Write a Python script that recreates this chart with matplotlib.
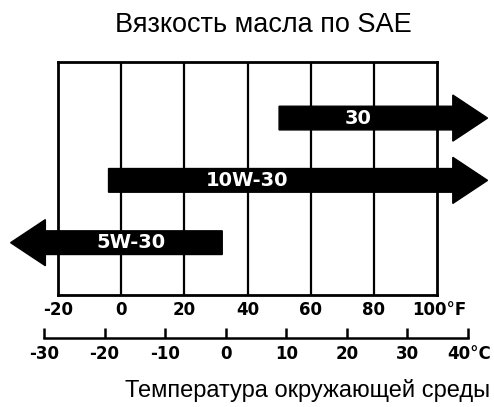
import matplotlib.pyplot as plt
from matplotlib.patches import FancyArrow

# SAE grades and their temperature ranges in Celsius (None = open-ended)
grades = ['5W-30', '10W-30', '30']
low_c = [None, -20, 10]
high_c = [0, None, None]

f_ticks = [-20, 0, 20, 40, 60, 80, 100]
f_labels = ['-20', '0', '20', '40', '60', '80', '100°F']
c_ticks = [-30, -20, -10, 0, 10, 20, 30, 40]
c_labels = ['-30', '-20', '-10', '0', '10', '20', '30', '40°C']


def c_to_f(c):
    return c * 9 / 5 + 32


plt.rcParams['font.family'] = ['Liberation Sans', 'DejaVu Sans']
bold = dict(family='DejaVu Sans', fontweight='bold')

W, H = 494, 407
fig = plt.figure(figsize=(W / 100, H / 100), dpi=100)

# main Fahrenheit box
ax = fig.add_axes([58 / W, (H - 295) / H, (437 - 58) / W, (295 - 62) / H])
ax.set_xlim(-20, 100)
ax.set_ylim(-0.84, 2.90)
for s in ax.spines.values():
    s.set_linewidth(2)
ax.vlines(f_ticks[1:-1], -0.84, 2.90, color='black', lw=1.6)
ax.set_xticks([])
ax.set_yticks([])

for v, lab in zip(f_ticks, f_labels):
    if lab.endswith('F'):
        ax.annotate(lab, (v, 0), xycoords=('data', 'axes fraction'),
                    xytext=(-18, -4), textcoords='offset points',
                    ha='left', va='top', fontsize=12, **bold)
    else:
        ax.annotate(lab, (v, 0), xycoords=('data', 'axes fraction'),
                    xytext=(0, -4), textcoords='offset points',
                    ha='center', va='top', fontsize=12, **bold)

# arrows
open_left, open_right = -35, 116
shift = [-3, -8, 0]
for i, (g, lo, hi) in enumerate(zip(grades, low_c, high_c)):
    if hi is None:
        x0 = c_to_f(lo)
        x1 = open_right
        mid = (x0 + 100) / 2
    else:
        x0 = c_to_f(hi)
        x1 = open_left
        mid = (x0 - 20) / 2
    arr = FancyArrow(x0, i, x1 - x0, 0, width=0.38, head_width=0.74,
                     head_length=11, length_includes_head=True,
                     color='black', clip_on=False)
    ax.add_patch(arr)
    ax.text(mid + shift[i], i, g, color='white', fontsize=14,
            ha='center', va='center', **bold)

# Celsius scale
ax2 = fig.add_axes([44 / W, (H - 338) / H, (468 - 44) / W, 0.02])
ax2.set_xlim(-30, 40)
for k in ['top', 'left', 'right']:
    ax2.spines[k].set_visible(False)
ax2.spines['bottom'].set_linewidth(1.8)
ax2.set_yticks([])
ax2.set_xticks(c_ticks)
ax2.set_xticklabels([])
ax2.tick_params(axis='x', direction='in', length=7.5, width=1.8)
ax2.patch.set_visible(False)
for v, lab in zip(c_ticks, c_labels):
    if lab.endswith('C'):
        ax2.annotate(lab, (v, 0), xycoords=('data', 'axes fraction'),
                     xytext=(-15, -5), textcoords='offset points',
                     ha='left', va='top', fontsize=12, **bold)
    else:
        ax2.annotate(lab, (v, 0), xycoords=('data', 'axes fraction'),
                     xytext=(0, -5), textcoords='offset points',
                     ha='center', va='top', fontsize=12, **bold)

fig.text(263 / W, 1 - 25 / H, 'Вязкость масла по SAE', ha='center',
         va='center', fontsize=19.5)
fig.text(308 / W, 1 - 391 / H, 'Температура окружающей среды', ha='center',
         va='center', fontsize=17)

fig.savefig('out.png', dpi=100)
